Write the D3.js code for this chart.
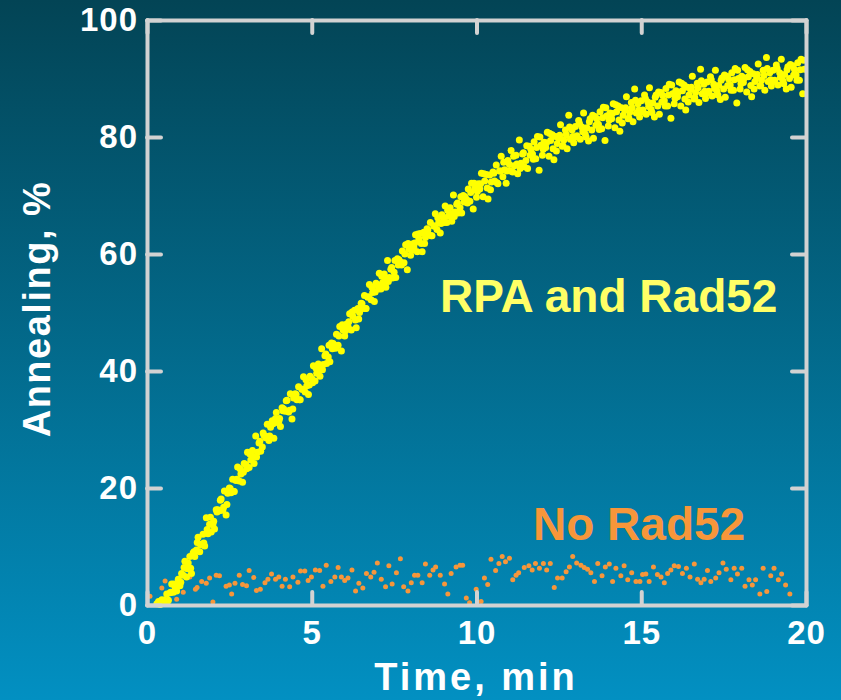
<!DOCTYPE html>
<html>
<head>
<meta charset="utf-8">
<script src="https://cdn.jsdelivr.net/npm/d3@7"></script>
<style>
  body { margin: 0; }
  svg text { font-family: "Liberation Sans", Arial, sans-serif; font-weight: bold; }
</style>
</head>
<body>
<svg class="chart" width="841" height="700"></svg>
<script>
// RPA and Rad52: readings every 0.05 min starting at 0.30 min
const rpaStart = 0.3;
const rpaStep = 0.05;
const rpaValues = [
  0.2, 0.6, 0.1, 0.9,
  0.8, 0.4, 1.9, 0.8, 2.1, 3.6, 2.2, 3.1, 2.4, 4.4,
  3.3, 5.4, 5.1, 7.5, 4.8, 7.2, 8.3, 5.4, 8.9, 8.3,
  9.4, 11.6, 9.1, 10.4, 12.1, 10.1, 14.9, 12.2, 13.8, 12.5,
  13.7, 13.0, 16.3, 16.3, 16.1, 18.1, 16.2, 19.5, 15.4, 19.1,
  20.0, 19.2, 21.5, 19.4, 21.3, 23.6, 21.2, 22.4, 21.0, 24.2,
  24.0, 26.1, 23.5, 24.8, 26.4, 24.2, 28.9, 26.1, 27.7, 26.3,
  27.0, 29.0, 28.6, 30.9, 28.1, 30.4, 31.5, 28.5, 31.9, 31.2,
  31.4, 30.5, 33.7, 33.5, 33.1, 35.0, 33.0, 36.1, 31.8, 35.4,
  36.1, 35.1, 37.3, 35.1, 36.9, 39.0, 36.4, 37.5, 36.0, 39.1,
  38.7, 40.9, 38.3, 39.6, 41.2, 39.1, 43.8, 41.1, 42.6, 41.3,
  42.4, 41.6, 44.8, 44.7, 44.4, 46.3, 44.4, 47.6, 43.4, 47.0,
  46.0, 48.0, 47.6, 49.8, 47.0, 49.3, 50.4, 47.4, 50.7, 50.0,
  51.6, 50.7, 52.9, 50.7, 52.6, 54.8, 52.2, 53.4, 51.9, 55.0,
  54.7, 56.7, 54.0, 55.1, 56.6, 54.3, 58.9, 56.0, 57.4, 55.9,
  56.9, 56.0, 59.2, 59.0, 58.6, 60.5, 58.5, 61.6, 57.3, 60.9,
  59.8, 61.7, 61.1, 63.3, 60.4, 62.6, 63.5, 60.4, 63.7, 62.8,
  64.3, 63.3, 65.4, 63.1, 64.8, 66.9, 64.2, 65.3, 63.6, 66.7,
  66.2, 68.2, 65.4, 66.5, 67.9, 65.6, 70.1, 67.2, 68.5, 67.0,
  67.9, 67.0, 70.0, 69.8, 69.3, 71.1, 69.0, 72.1, 67.7, 71.2,
  69.7, 72.0, 71.1, 73.8, 69.8, 72.5, 73.6, 69.4, 73.5, 72.3,
  74.0, 72.5, 75.2, 72.0, 74.2, 76.7, 73.2, 74.4, 72.1, 76.0,
  75.3, 77.7, 74.0, 75.1, 76.9, 73.7, 79.5, 75.5, 77.1, 74.9,
  76.0, 74.6, 78.4, 77.9, 77.1, 79.2, 76.3, 80.1, 74.3, 78.6,
  76.9, 79.1, 78.2, 80.8, 76.7, 79.4, 80.4, 76.1, 80.1, 78.9,
  79.8, 82.1, 78.4, 79.5, 81.2, 78.0, 83.7, 79.6, 81.2, 79.0,
  81.8, 80.2, 82.8, 79.6, 81.7, 84.1, 80.5, 81.6, 79.3, 83.1,
  81.2, 79.8, 83.5, 83.1, 82.2, 84.3, 81.4, 85.1, 79.4, 83.6,
  81.9, 84.1, 83.1, 85.7, 81.6, 84.3, 85.3, 81.0, 85.0, 83.7,
  84.6, 86.9, 83.1, 84.2, 85.9, 82.6, 88.2, 84.1, 85.7, 83.4,
  86.2, 84.6, 87.2, 83.9, 86.0, 88.4, 84.7, 85.8, 83.4, 87.2,
  85.3, 83.9, 87.6, 87.1, 86.2, 88.3, 85.3, 89.0, 83.2, 87.4,
  85.7, 87.9, 86.9, 89.4, 85.3, 87.9, 88.9, 84.6, 88.5, 87.2,
  88.1, 90.4, 86.5, 87.6, 89.2, 85.9, 91.6, 87.4, 89.0, 86.6,
  89.4, 87.8, 90.3, 87.0, 89.0, 91.4, 87.8, 88.8, 86.4, 90.1,
  88.2, 86.8, 90.4, 89.9, 88.9, 91.0, 88.0, 91.7, 85.8, 90.0,
  88.2, 90.4, 89.3, 91.9, 87.7, 90.3, 91.2, 86.9, 90.8, 89.5,
  90.3, 92.5, 88.7, 89.7, 91.4, 88.0, 93.6, 89.5, 91.0, 88.7,
  91.4, 89.7, 92.3, 88.9, 91.0, 93.3, 89.6, 90.7, 88.2, 92.0,
  90.0, 88.5, 92.2, 91.6, 90.6, 92.7, 89.7, 93.3, 87.4, 91.6
];

// interleaved readings, every 0.1 min starting at 0.525 min
const rpaStart2 = 0.525;
const rpaStep2 = 0.1;
const rpaValues2 = [
  0.8, 0.7, 2.2, 3.6, 3.5,
  3.9, 6.4, 6.2, 6.3, 9.1,
  10.7, 10.3, 10.6, 12.9, 15.0,
  14.3, 15.9, 17.9, 16.7, 17.2,
  19.9, 19.4, 21.5, 23.3, 22.7,
  23.3, 25.8, 25.4, 25.3, 28.0,
  29.4, 28.8, 28.9, 31.0, 32.9,
  31.9, 33.2, 34.9, 33.3, 33.5,
  36.0, 35.1, 36.9, 38.5, 37.6,
  38.0, 40.5, 40.2, 40.2, 42.9,
  44.4, 43.8, 43.9, 46.0, 47.9,
  46.9, 48.4, 50.1, 48.7, 48.9,
  51.5, 50.7, 52.7, 54.3, 53.5,
  54.0, 56.2, 55.6, 55.3, 57.7,
  58.9, 58.1, 58.1, 60.0, 61.8,
  60.6, 61.9, 63.4, 61.8, 61.8,
  64.1, 63.1, 64.8, 66.2, 65.2,
  65.4, 67.5, 66.8, 66.4, 68.7,
  69.8, 68.9, 68.7, 70.5, 72.1,
  70.7, 72.0, 73.7, 71.3, 71.0,
  73.8, 72.2, 74.2, 75.7, 74.2,
  74.2, 76.7, 75.4, 74.6, 77.3,
  78.5, 76.9, 76.2, 78.2, 80.0,
  77.9, 79.0, 80.6, 78.0, 77.6,
  80.3, 78.5, 80.4, 81.7, 80.1,
  80.0, 82.3, 80.9, 80.0, 82.6,
  83.7, 82.0, 81.3, 83.3, 85.0,
  82.9, 84.0, 85.5, 82.9, 82.4,
  85.0, 83.2, 85.0, 86.3, 84.6,
  84.3, 86.6, 85.2, 84.2, 86.8,
  87.7, 86.0, 85.3, 87.2, 88.9,
  86.6, 87.7, 89.2, 86.5, 86.0,
  88.5, 86.7, 88.4, 89.6, 87.8,
  87.5, 89.8, 88.3, 87.2, 89.7,
  90.6, 88.8, 88.0, 89.8, 91.4,
  89.1, 90.1, 91.5, 88.8, 88.2,
  90.7, 88.8, 90.5, 91.7, 89.8,
  89.5, 91.7, 90.2, 89.1, 91.5,
  92.4, 90.6, 89.7, 91.5, 93.1
];

// No Rad52
const noRadTimes = [
  0.09, 0.45, 0.55, 0.9, 1.1, 1.3, 1.47, 1.52, 1.66, 1.8, 1.9, 2.0, 2.1, 2.2,
  2.4, 2.5, 2.57, 2.67, 2.8, 2.9, 3.02, 3.1, 3.24, 3.32, 3.44, 3.58, 3.67, 3.78,
  3.9, 4.0, 4.1, 4.2, 4.33, 4.43, 4.58, 4.66, 4.79, 4.89, 4.99, 5.11, 5.24, 5.34,
  5.44, 5.58, 5.7, 5.8, 5.9, 6.0, 6.1, 6.22, 6.33, 6.43, 6.55, 6.66, 6.79, 6.89,
  6.99, 7.11, 7.24, 7.34, 7.44, 7.57, 7.69, 7.79, 7.92, 8.02, 8.12, 8.22, 8.35,
  8.45, 8.58, 8.68, 8.76, 8.9, 9.03, 9.13, 9.23, 9.38, 9.5, 9.58, 9.69, 9.79,
  9.99, 10.14, 10.24, 10.34, 10.44, 10.58, 10.68, 10.78, 10.88, 11.0, 11.1, 11.2,
  11.28, 11.45, 11.59, 11.69, 11.79, 11.91, 12.03, 12.13, 12.24, 12.36, 12.46,
  12.6, 12.72, 12.82, 12.92, 13.04, 13.17, 13.27, 13.37, 13.47, 13.58, 13.68,
  13.81, 13.91, 14.03, 14.13, 14.23, 14.38, 14.48, 14.59, 14.71, 14.84, 14.96,
  15.04, 15.14, 15.24, 15.37, 15.49, 15.6, 15.7, 15.8, 15.9, 16.0, 16.13, 16.25,
  16.37, 16.48, 16.61, 16.71, 16.81, 16.91, 17.01, 17.11, 17.26, 17.36, 17.48,
  17.58, 17.72, 17.82, 17.92, 18.05, 18.15, 18.27, 18.37, 18.47, 18.6, 18.7,
  18.81, 18.93, 19.03, 19.16, 19.26, 19.38, 19.51
];
const noRadValues = [
  1.5, 2.9, 4.1, 1.0, 2.2, 4.8, 2.7, 3.0, 4.0, 3.7, 4.6, 0.5, 5.1, 5.0,
  3.2, 3.4, 1.9, 3.7, 5.1, 3.5, 3.3, 5.9, 4.7, 2.5, 2.7, 3.8, 4.4, 5.3,
  4.4, 4.8, 3.2, 4.4, 3.1, 4.8, 3.9, 5.8, 5.8, 4.2, 4.8, 6.0, 5.9, 3.2,
  6.8, 4.0, 4.8, 6.4, 4.8, 4.2, 4.6, 6.0, 2.4, 3.7, 2.9, 5.4, 4.8, 5.6,
  7.2, 4.4, 3.1, 6.7, 3.6, 5.5, 7.9, 3.1, 2.4, 3.8, 5.1, 5.1, 3.8,
  7.0, 5.1, 6.0, 6.5, 5.1, 3.6, 1.9, 5.4, 6.5, 6.8, 6.8, 1.2, 0.4,
  2.7, 0.6, 4.6, 3.5, 7.8, 5.9, 7.1, 8.3, 7.4, 8.0, 4.3, 5.1,
  5.5, 6.4, 6.7, 6.0, 7.1, 6.3, 7.1, 6.0, 7.1, 3.0, 4.6,
  4.6, 5.7, 6.5, 8.3, 7.2, 6.8, 6.4, 6.1, 5.5, 4.0, 7.1,
  5.0, 6.5, 7.0, 4.0, 6.3, 5.0, 6.7, 4.3, 5.5, 4.0, 4.0,
  5.2, 5.3, 4.0, 6.5, 5.2, 4.8, 3.8, 5.4, 6.0, 6.7, 6.6, 5.4,
  6.3, 4.8, 7.0, 4.4, 3.8, 4.4, 5.9, 4.0, 4.6, 5.5, 7.2,
  6.1, 4.3, 6.3, 5.3, 6.3, 3.2, 4.3, 3.4, 4.3, 1.9, 6.3,
  2.3, 5.0, 6.3, 4.3, 5.3, 3.4, 1.9
];

const xTicks = [0, 5, 10, 15, 20];
const yTicks = [0, 20, 40, 60, 80, 100];

const svg = d3.select("svg.chart");

const x = d3.scaleLinear().domain([0, 20]).range([147, 806]);
const y = d3.scaleLinear().domain([0, 100]).range([605, 20]);

const grad = svg
  .append("defs")
  .append("linearGradient")
  .attr("id", "bg")
  .attr("x1", 0)
  .attr("y1", 0)
  .attr("x2", 0)
  .attr("y2", 1);
grad.append("stop").attr("offset", "0%").attr("stop-color", "#034455");
grad.append("stop").attr("offset", "100%").attr("stop-color", "#0290c2");

svg
  .append("rect")
  .attr("width", 841)
  .attr("height", 700)
  .attr("fill", "url(#bg)");

// data points
svg
  .append("g")
  .selectAll("circle")
  .data(noRadTimes)
  .enter()
  .append("circle")
  .attr("cx", (d) => x(d))
  .attr("cy", (d, i) => y(noRadValues[i]))
  .attr("r", 2.5)
  .attr("fill", "#f7963a");

const rpaPoints = rpaValues
  .map((d, i) => [rpaStart + i * rpaStep, d])
  .concat(rpaValues2.map((d, i) => [rpaStart2 + i * rpaStep2, d]));

svg
  .append("g")
  .selectAll("circle")
  .data(rpaPoints)
  .enter()
  .append("circle")
  .attr("cx", (d) => x(d[0]))
  .attr("cy", (d) => y(d[1]))
  .attr("r", 3.5)
  .attr("fill", "#ffff00");

// axes frame with inward ticks
const styleAxis = (g) => {
  g.selectAll(".domain, .tick line")
    .attr("stroke", "#d2d2d2")
    .attr("stroke-width", 4)
    .attr("stroke-linecap", "round");
  g.selectAll("text")
    .attr("fill", "#ffffff")
    .style("font-size", "33px")
    .style("letter-spacing", "1px");
};

svg
  .append("g")
  .attr("transform", "translate(0,605)")
  .call(d3.axisBottom(x).tickValues(xTicks).tickSize(-13).tickSizeOuter(0).tickPadding(16))
  .call(styleAxis);

svg
  .append("g")
  .attr("transform", "translate(0,20)")
  .call(d3.axisTop(x).tickValues(xTicks).tickSize(-13).tickSizeOuter(0).tickFormat(""))
  .call(styleAxis);

svg
  .append("g")
  .attr("transform", "translate(147,0)")
  .call(d3.axisLeft(y).tickValues(yTicks).tickSize(-14).tickSizeOuter(0).tickPadding(9))
  .call(styleAxis);

svg
  .append("g")
  .attr("transform", "translate(806,0)")
  .call(d3.axisRight(y).tickValues(yTicks).tickSize(-14).tickSizeOuter(0).tickFormat(""))
  .call(styleAxis);

svg.selectAll("g text").attr("font-family", null);

// axis titles
svg
  .append("text")
  .attr("x", 476)
  .attr("y", 690)
  .attr("text-anchor", "middle")
  .attr("fill", "#ffffff")
  .style("font-size", "38px")
  .style("letter-spacing", "3px")
  .text("Time, min");

svg
  .append("text")
  .attr("transform", "translate(50,309) rotate(-90)")
  .attr("text-anchor", "middle")
  .attr("fill", "#ffffff")
  .style("font-size", "38px")
  .style("letter-spacing", "1.5px")
  .text("Annealing, %");

// series labels
svg
  .append("text")
  .attr("x", 440)
  .attr("y", 312)
  .attr("fill", "#ffff66")
  .style("font-size", "46px")
  .text("RPA and Rad52");

svg
  .append("text")
  .attr("x", 533)
  .attr("y", 540)
  .attr("fill", "#f7963a")
  .style("font-size", "46px")
  .text("No Rad52");
</script>
</body>
</html>
